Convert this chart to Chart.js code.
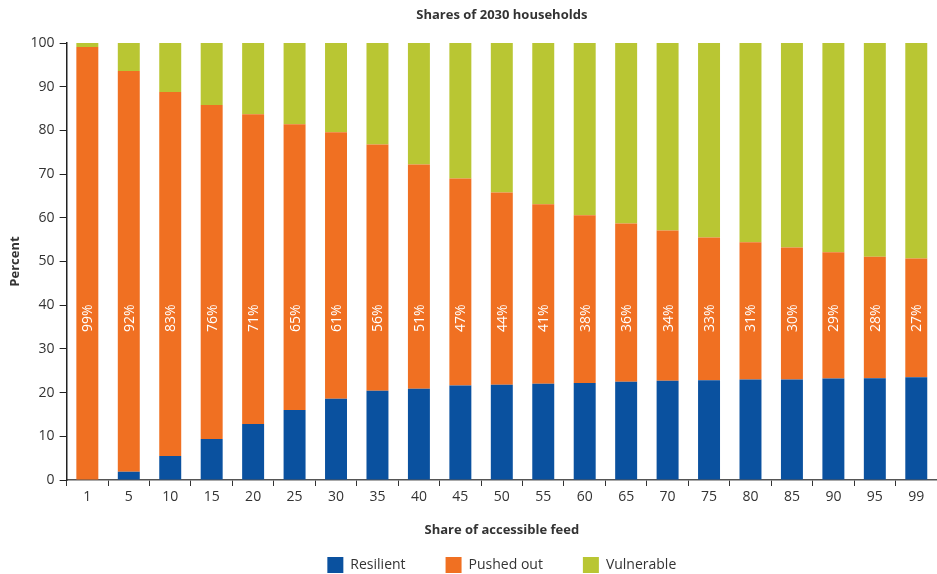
<!DOCTYPE html>
<html>
<head>
<meta charset="utf-8">
<script src="https://cdn.jsdelivr.net/npm/chart.js@4"></script>
<style>
  html, body { margin: 0; padding: 0; background: #fff; }
  #wrap { width: 937px; height: 574px; }
</style>
</head>
<body>
<div id="wrap"><canvas id="chart"></canvas></div>
<script>
// ── Data ──────────────────────────────────────────────────────────────────────
const CATEGORIES = ['1','5','10','15','20','25','30','35','40','45','50',
                    '55','60','65','70','75','80','85','90','95','99'];

const RESILIENT  = [0, 1.9, 5.5, 9.4, 12.8, 16.0, 18.6, 20.4, 20.9, 21.6, 21.8,
                    22.0, 22.2, 22.5, 22.7, 22.8, 23.0, 23.0, 23.2, 23.3, 23.5];
const PUSHED_OUT = [99.1, 91.7, 83.3, 76.4, 70.9, 65.4, 61.0, 56.4, 51.3, 47.4, 44.0,
                    41.1, 38.4, 36.2, 34.4, 32.7, 31.4, 30.2, 28.9, 27.8, 27.2];
const VULNERABLE = [0.9, 6.4, 11.2, 14.2, 16.3, 18.6, 20.4, 23.2, 27.8, 31.0, 34.2,
                    36.9, 39.4, 41.3, 42.9, 44.5, 45.6, 46.8, 47.9, 48.9, 49.3];

const Y_TICKS = [0, 10, 20, 30, 40, 50, 60, 70, 80, 90, 100];

const COLORS = { resilient: '#0a519f', pushed: '#f07022', vulnerable: '#b9c633' };
const TEXT = '#333333';
const FONT = "'Open Sans', 'Noto Sans', sans-serif";

// value (on the y scale) where the % labels sit, centred
const LABEL_AT = 37;

// ── Plugins ───────────────────────────────────────────────────────────────────
const pushedLabels = {
  id: 'pushedLabels',
  afterDatasetsDraw(chart) {
    const meta = chart.getDatasetMeta(1);
    const y = chart.scales.y.getPixelForValue(LABEL_AT);
    const ctx = chart.ctx;
    ctx.save();
    ctx.fillStyle = '#fff';
    ctx.font = `14px ${FONT}`;
    ctx.textAlign = 'center';
    ctx.textBaseline = 'middle';
    meta.data.forEach((bar, i) => {
      ctx.save();
      ctx.translate(bar.x, y);
      ctx.rotate(-Math.PI / 2);
      ctx.fillText(Math.round(PUSHED_OUT[i]) + '%', 0, 1);
      ctx.restore();
    });
    ctx.restore();
  },
};

// ── Chart ─────────────────────────────────────────────────────────────────────
const bar = (label, data, color) => ({
  label, data,
  backgroundColor: color,
  borderWidth: 0,
  barPercentage: 0.53,
  categoryPercentage: 1,
});

new Chart(document.getElementById('chart'), {
  type: 'bar',
  data: {
    labels: CATEGORIES,
    datasets: [
      bar('Resilient',  RESILIENT,  COLORS.resilient),
      bar('Pushed out', PUSHED_OUT, COLORS.pushed),
      bar('Vulnerable', VULNERABLE, COLORS.vulnerable),
    ],
  },
  plugins: [pushedLabels],
  options: {
    responsive: true,
    maintainAspectRatio: false,
    animation: false,
    layout: { padding: { left: 0, right: 0, top: 0, bottom: 0 } },
    plugins: {
      title: {
        display: true,
        text: 'Shares of 2030 households',
        color: TEXT,
        fullSize: false,
        font: { family: FONT, size: 13, weight: 'bold' },
        padding: { top: 7, bottom: 20.4 },
      },
      legend: {
        position: 'bottom',
        fullSize: false,
        maxHeight: 57,
        labels: {
          color: TEXT,
          font: { family: FONT, size: 14 },
          boxWidth: 16,
          boxHeight: 16,
          padding: 40,
        },
      },
      tooltip: { enabled: false },
    },
    scales: {
      x: {
        stacked: true,
        border: { display: true, color: '#555', width: 1.5 },
        grid: { display: true, drawOnChartArea: false, drawTicks: true, tickLength: 6, color: '#333', offset: true },
        ticks: { color: TEXT, padding: 3, font: { family: FONT, size: 14 }, maxRotation: 0 },
        title: {
          display: true,
          text: 'Share of accessible feed',
          color: TEXT,
          font: { family: FONT, size: 13, weight: 'bold' },
          padding: { top: 13.4, bottom: -20.8 },
        },
      },
      y: {
        stacked: true,
        min: 0,
        max: 100,
        afterBuildTicks: axis => { axis.ticks = Y_TICKS.map(v => ({ value: v })); },
        border: { display: true, color: '#222', width: 1.5 },
        grid: { display: true, drawOnChartArea: false, drawTicks: true, tickLength: 7, color: '#222' },
        ticks: { color: TEXT, padding: 5, font: { family: FONT, size: 14 } },
        title: {
          display: true,
          text: 'Percent',
          color: TEXT,
          font: { family: FONT, size: 13, weight: 'bold' },
          padding: { top: 7, bottom: 3 },
        },
      },
    },
  },
});
</script>
</body>
</html>
